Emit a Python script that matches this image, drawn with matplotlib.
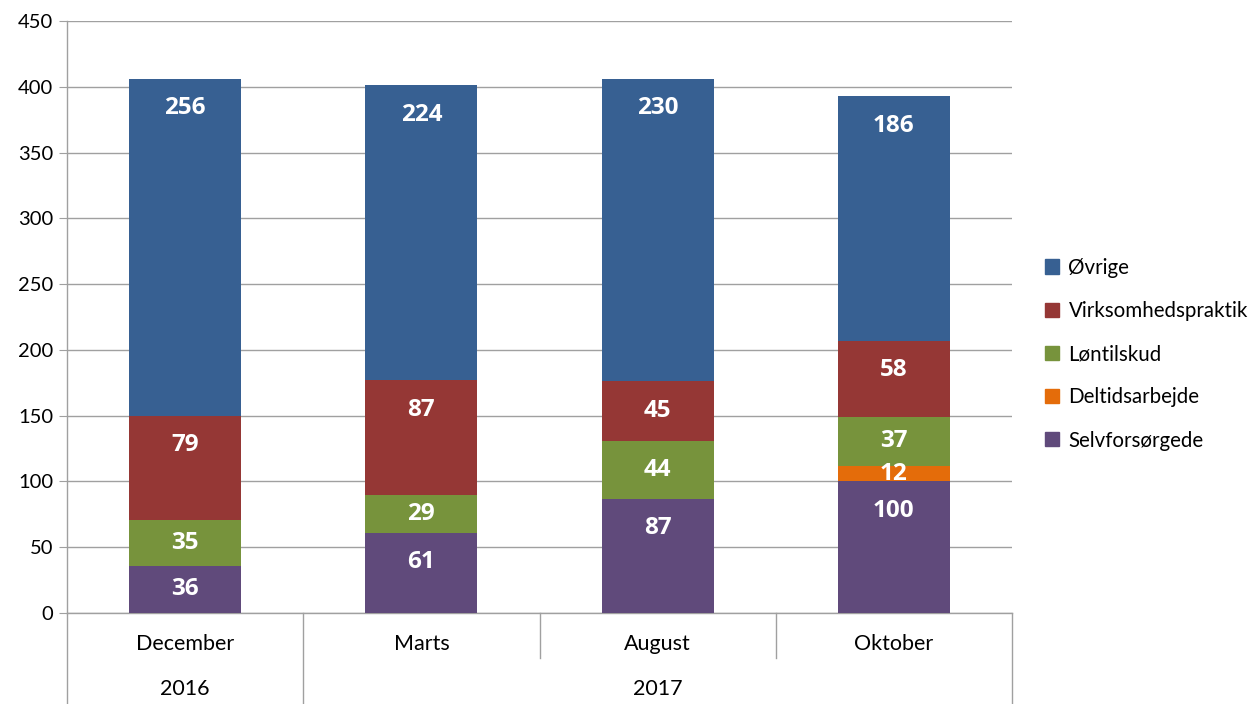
import numpy as np
import matplotlib.pyplot as plt
import matplotlib.transforms as mtransforms
from matplotlib.patches import Patch

plt.rcParams['font.family'] = ['Lato', 'DejaVu Sans']

# Data
months = ['December', 'Marts', 'August', 'Oktober']
years = ['2016', '2017']
year_spans = [(0, 0), (1, 3)]  # first and last month index per year
series = ['Selvforsørgede', 'Deltidsarbejde', 'Løntilskud', 'Virksomhedspraktik', 'Øvrige']
selvforsorgede = [36, 61, 87, 100]
deltidsarbejde = [0, 0, 0, 12]
lontilskud = [35, 29, 44, 37]
virksomhedspraktik = [79, 87, 45, 58]
ovrige = [256, 224, 230, 186]
values = [selvforsorgede, deltidsarbejde, lontilskud, virksomhedspraktik, ovrige]
colors = ['#604A7B', '#E46C0A', '#77933C', '#953735', '#376092']

fig = plt.figure(figsize=(12.57, 7.04), dpi=100)
ax = fig.add_axes([0.0533, 0.1293, 0.7518, 0.8409])

x = np.arange(len(months))
bottom = np.zeros(len(months))
inset = 22.5  # label distance below segment top (data units), "inside end"
for name, vals, col in zip(series, values, colors):
    vals = np.array(vals, dtype=float)
    ax.bar(x, vals, width=0.475, bottom=bottom, color=col, zorder=3)
    for xi, b, v in zip(x, bottom, vals):
        if v > 0:
            ly = max(b + v / 2, b + v - inset)
            ax.text(xi, ly, f'{int(v)}', ha='center', va='center',
                    color='white', fontsize=17.5, fontweight='bold',
                    family=['Open Sans', 'DejaVu Sans'], zorder=4)
    bottom += vals

ax.set_xlim(-0.5, len(months) - 0.5)
ax.set_ylim(0, 450)
ax.set_yticks(np.arange(0, 451, 50))
ax.tick_params(axis='y', labelsize=14.5, length=6, color='#A0A0A0', pad=4)
ax.set_xticks([])
ax.grid(axis='y', color='#A0A0A0', linewidth=1, zorder=0)
for s in ['top', 'right']:
    ax.spines[s].set_visible(False)
for s in ['left', 'bottom']:
    ax.spines[s].set_color('#A0A0A0')
    ax.spines[s].set_linewidth(1)

# Multi-level category axis
trans = mtransforms.blended_transform_factory(ax.transData, ax.transAxes)
for i, m in enumerate(months):
    ax.text(i, -0.053, m, transform=trans, ha='center', va='center', fontsize=15.5)
year_starts = [s for s, e in year_spans]
for i in range(len(months) + 1):
    bx = i - 0.5
    low = -0.154 if (i in year_starts or i == len(months)) else -0.076
    ax.plot([bx, bx], [0, low], transform=trans, color='#A0A0A0', lw=1, clip_on=False)
for yr, (s, e) in zip(years, year_spans):
    ax.text((s + e) / 2, -0.129, yr, transform=trans, ha='center', va='center', fontsize=15.5)

# Legend
handles = [Patch(color=c, label=n) for n, c in zip(series, colors)][::-1]
fig.legend(handles=handles, loc='center left', bbox_to_anchor=(0.825, 0.497),
           frameon=False, fontsize=14.8, handlelength=0.68, handleheight=0.68,
           handletextpad=0.45, labelspacing=1.13, borderaxespad=0)

fig.savefig('out.png', dpi=100)
